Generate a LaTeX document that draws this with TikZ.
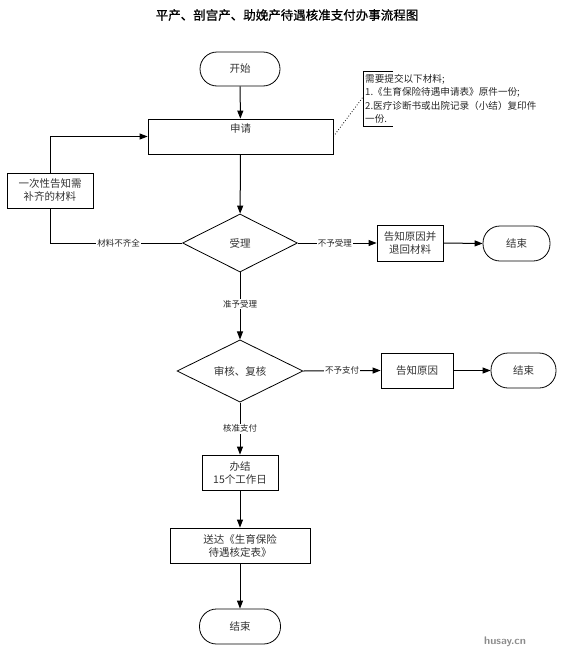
\documentclass[tikz,border=0pt]{standalone}
\usepackage{fontspec}
\newfontfamily\cjk{Noto Sans CJK SC}
\newfontfamily\cjktitle[FakeBold=0.8]{Noto Sans CJK SC}
\usetikzlibrary{shapes.geometric,arrows.meta}
\begin{document}
\begin{tikzpicture}[x=1pt,y=-1pt,
  every node/.style={font=\cjk},
  boxnode/.style={draw, line width=0.8pt, rectangle, inner sep=1pt, align=center, font=\cjk\fontsize{10.5}{13}\selectfont, text=black!80},
  termnode/.style={boxnode, rounded corners=17pt},
  decnode/.style={draw, line width=0.8pt, diamond, inner sep=0pt, font=\cjk\fontsize{10.5}{13}\selectfont, text=black!80},
  edgelbl/.style={fill=white, inner sep=1pt, font=\cjk\fontsize{8.5}{10}\selectfont, text=black!85},
  flow/.style={line width=1pt, -{Triangle[length=8pt,width=6pt]}},
  plain/.style={line width=1pt}
]
\useasboundingbox (0,0) rectangle (562,664);
\node[font=\cjktitle\fontsize{12.5}{15}\selectfont] (title) at (287,15) {平产、剖宫产、助娩产待遇核准支付办事流程图};

\node[termnode, minimum width=80pt, minimum height=34pt] (start) at (240,69) {开始};
\node[boxnode, minimum width=185pt, minimum height=35pt,
      label={[anchor=north, yshift=-2pt, font=\cjk\fontsize{10.5}{13}\selectfont, text=black!80]north:申请}] (apply) at (240.5,136.5) {};
\node[boxnode, minimum width=86pt, minimum height=35pt] (left) at (50,190.5) {一次性告知需\\补齐的材料};

\node[decnode, minimum width=115pt, minimum height=58pt] (d1) at (240,243) {受理};
\node[boxnode, minimum width=66pt, minimum height=36pt] (r1) at (410,243) {告知原因并\\退回材料};
\node[termnode, minimum width=67pt, minimum height=35pt] (e1) at (516.5,243.5) {结束};

\node[decnode, minimum width=126pt, minimum height=58pt] (d2) at (240,371) {审核、复核};
\node[boxnode, minimum width=72pt, minimum height=35pt] (r2) at (417,370.5) {告知原因};
\node[termnode, minimum width=65pt, minimum height=35pt] (e2) at (523.5,370.5) {结束};

\node[boxnode, minimum width=76pt, minimum height=35pt] (b1) at (240,472.5) {办结\\15个工作日};
\node[boxnode, minimum width=140pt, minimum height=35pt] (b2) at (240,545.5) {送达《生育保险\\待遇核定表》};
\node[termnode, minimum width=81pt, minimum height=35pt] (e3) at (240,626.5) {结束};

% note bracket
\coordinate (ntop) at (363,71);
\coordinate (nbot) at (363,126);
\coordinate (nmid) at (363,97);
\draw[line width=0.8pt] (393,71) -- (ntop) -- (nbot) -- (393,126);
\node[anchor=north west, align=left, inner sep=0pt, font=\cjk\fontsize{9.6}{13.5}\selectfont, text=black!85] (note) at (365,74)
  {需要提交以下材料;\\1.《生育保险待遇申请表》原件一份;\\2.医疗诊断书或出院记录（小结）复印件\\一份.};
\draw[dotted, line width=0.8pt] (apply.east) -- (nmid);

% connectors
\draw[flow] (start) -- (apply);
\draw[flow] (apply) -- (d1);
\draw[plain] (d1.west) -- node[edgelbl, pos=0.48] {材料不齐全} (left.south |- d1.west) -- (left.south);
\draw[flow] (left.north) |- (apply.west);
\draw[flow] (d1.east) -- node[edgelbl, pos=0.47] {不予受理} (r1.west);
\draw[flow] (r1.east) -- (e1.west);
\draw[flow] (d1.south) -- node[edgelbl, pos=0.47] {准予受理} (d2.north);
\draw[flow] (d2.east) -- node[edgelbl, pos=0.5] {不予支付} (r2.west);
\draw[flow] (r2.east) -- (e2.west);
\draw[flow] (d2.south) -- node[edgelbl, pos=0.5] {核准支付} (b1.north);
\draw[flow] (b1) -- (b2);
\draw[flow] (b2) -- (e3);

\node[font=\sffamily\bfseries\fontsize{11}{13}\selectfont, text=black!45] (wm) at (505,642) {husay.cn};
\end{tikzpicture}
\end{document}
